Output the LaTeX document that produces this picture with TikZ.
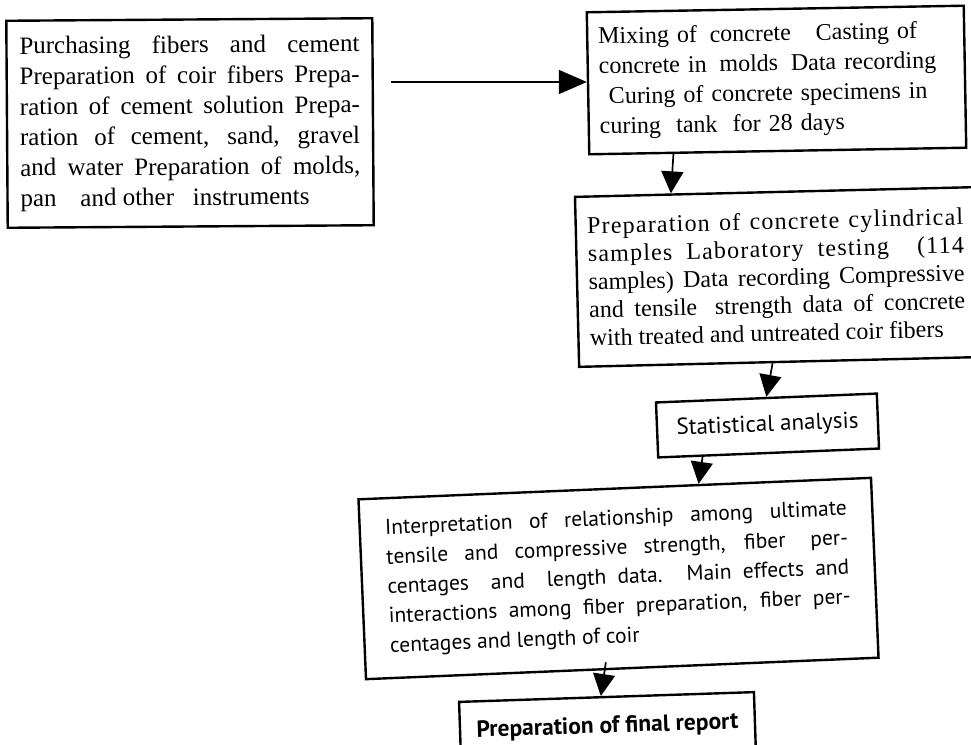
\documentclass[tikz,border=0pt]{standalone}
\usepackage{fontspec}
\setmainfont{Liberation Serif}
\newfontfamily\humsans{PT Sans}
\usetikzlibrary{arrows.meta,calc}
\tikzset{
  flowbox/.style={draw=black, line width=2.4pt, fill=white, inner ysep=0pt,
    execute at begin node={\tolerance=9999\hyphenpenalty=10000}},
  serifbig/.style={font=\fontsize{25}{30.5}\selectfont},
  vconn/.style={line width=1.7pt, -{Triangle[length=22pt,width=22pt]}},
  hconn/.style={line width=1.7pt, -{Triangle[length=28pt,width=24pt]}},
}
\begin{document}
\begin{tikzpicture}[x=1pt,y=-1pt]
\useasboundingbox (0,0) rectangle (971,744);
\clip (0,0) rectangle (971,744);
\fill[white] (0,0) rectangle (971,744);

\node[flowbox, serifbig, rotate=0.4, text width=340pt, inner xsep=13pt,
      minimum height=207pt, align=justify] (b1) at (190,123)
 {Purchasing fibers and cement\linebreak
  Preparation of coir fibers Prepa-\linebreak
  ration of cement solution Prepa-\linebreak
  ration of cement, sand, gravel\linebreak
  and water Preparation of molds,\linebreak
  pan\hspace{0.7em} and other\hspace{0.5em} instruments};

\node[flowbox, font=\fontsize{24}{30}\selectfont, rotate=1, text width=355pt,
      inner xsep=11pt, minimum height=142pt, align=left] (b2) at (776.5,80)
 {\mbox{Mixing of\hspace{0.2em} concrete\hspace{0.7em} Casting of}\\
  \mbox{concrete in\hspace{0.2em} molds\hspace{0.2em} Data recording}\\
  \mbox{\hspace*{0.4em}Curing of concrete specimens in}\\
  \mbox{curing\hspace{0.3em} tank\hspace{0.3em} for 28 days}};

\node[flowbox, font=\fontsize{24}{28}\selectfont, rotate=1.4, text width=376pt,
      inner xsep=11.5pt, minimum height=170pt, align=justify] (b3) at (776.5,277)
 {\parfillskip=0pt {\addfontfeature{LetterSpace=5}Preparation of concrete cylindrical\linebreak
  samples Laboratory testing\hspace{0.6em} (114}\linebreak
  samples) Data recording Compressive\linebreak
  and tensile\hspace{0.3em} strength data of concrete\linebreak
  with treated and untreated coir fibers};

\node[flowbox, font=\humsans\fontsize{23}{26}\selectfont, rotate=2.3,
      minimum width=221pt, minimum height=55pt] (b4) at (767.5,425.5)
 {Statistical analysis};

\node[flowbox, font=\humsans\fontsize{21.5}{29.5}\selectfont, rotate=2.4, text width=462pt,
      inner xsep=25.5pt, minimum height=180pt, align=justify] (b5) at (618.5,578.5)
 {Interpretation of relationship among ultimate\linebreak
  tensile and compressive strength, fiber\hspace{0.4em} per-\linebreak
  centages\hspace{0.5em} and\hspace{0.5em} length data. Main effects and\linebreak
  interactions among fiber preparation, fiber per-\linebreak
  centages and length of coir};

\node[flowbox, font=\humsans\bfseries\fontsize{23.5}{26}\selectfont, rotate=1.9,
      minimum width=295pt, minimum height=60pt] (b6) at (607.5,727)
 {Preparation of final report};

\coordinate (a1) at (391,82);
\draw[hconn] (a1) -- (a1 -| b2.west);
\draw[vconn] ($(b2.south west)!0.225!(b2.south east)$) -- ($(b3.north west)!0.242!(b3.north east)$);
\draw[vconn] ($(b3.south west)!0.485!(b3.south east)$) -- ($(b4.north west)!0.5!(b4.north east)$);
\draw[vconn] ($(b4.south west)!0.204!(b4.south east)$) -- ($(b5.north west)!0.663!(b5.north east)$);
\draw[vconn] ($(b5.south west)!0.468!(b5.south east)+(0,-8)$) -- ($(b6.north west)!0.481!(b6.north east)$);
\end{tikzpicture}
\end{document}
